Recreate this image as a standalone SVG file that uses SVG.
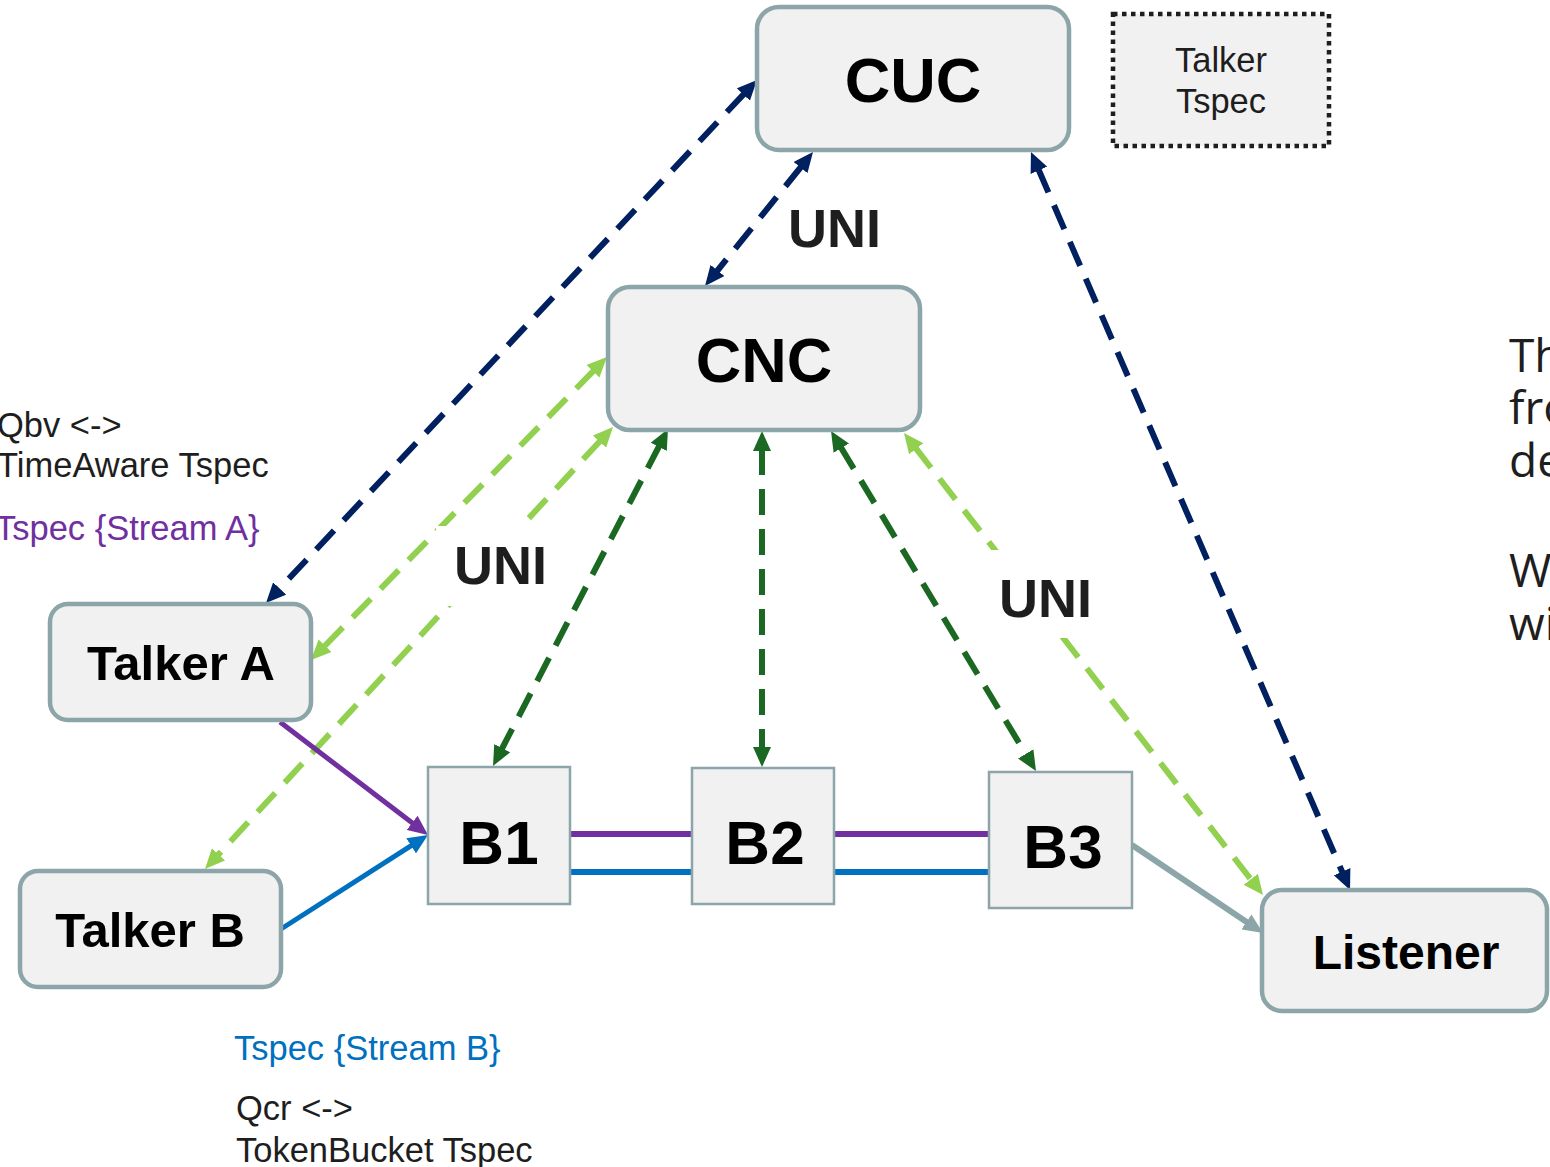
<svg xmlns="http://www.w3.org/2000/svg" width="1550" height="1167" viewBox="0 0 1550 1167">
<style>
.box{fill:#F1F1F1;stroke:#8BA5A8;stroke-width:4.5}
.sq{fill:#F1F1F1;stroke:#8BA5A8;stroke-width:2.5}
.lbl{font-family:"Liberation Sans",Arial,sans-serif;font-weight:bold;fill:#000;text-anchor:middle}
.uni{font-family:"Liberation Sans",Arial,sans-serif;font-weight:bold;font-size:54px;fill:#1E1E1E}
.note{font-family:"Liberation Sans",Arial,sans-serif;font-size:34.5px;fill:#1E1E1E}
.dash{fill:none;stroke-width:6;stroke-dasharray:26 14}
.navy{stroke:#002060;marker-start:url(#mNavy);marker-end:url(#mNavy)}
.lg{stroke:#92D050;marker-start:url(#mLg);marker-end:url(#mLg)}
.dg{stroke:#1A6822;marker-start:url(#mDg);marker-end:url(#mDg)}
.side{font-family:"Open Sans","Noto Sans",sans-serif;font-size:46px;fill:#1E1E1E}
</style>
<defs>
<marker id="mNavy" viewBox="0 0 20 18" refX="2" refY="9" markerWidth="20" markerHeight="18" markerUnits="userSpaceOnUse" orient="auto-start-reverse"><path d="M0,0 L20,9 L0,18 z" fill="#002060"/></marker>
<marker id="mLg" viewBox="0 0 20 18" refX="2" refY="9" markerWidth="20" markerHeight="18" markerUnits="userSpaceOnUse" orient="auto-start-reverse"><path d="M0,0 L20,9 L0,18 z" fill="#92D050"/></marker>
<marker id="mDg" viewBox="0 0 20 18" refX="2" refY="9" markerWidth="20" markerHeight="18" markerUnits="userSpaceOnUse" orient="auto-start-reverse"><path d="M0,0 L20,9 L0,18 z" fill="#1A6822"/></marker>
<marker id="mPur" viewBox="0 0 20 18" refX="2" refY="9" markerWidth="20" markerHeight="18" markerUnits="userSpaceOnUse" orient="auto"><path d="M0,0 L20,9 L0,18 z" fill="#7030A0"/></marker>
<marker id="mBlue" viewBox="0 0 20 18" refX="2" refY="9" markerWidth="20" markerHeight="18" markerUnits="userSpaceOnUse" orient="auto"><path d="M0,0 L20,9 L0,18 z" fill="#0070C0"/></marker>
<marker id="mGrey" viewBox="0 0 20 18" refX="2" refY="9" markerWidth="20" markerHeight="18" markerUnits="userSpaceOnUse" orient="auto"><path d="M0,0 L20,9 L0,18 z" fill="#8BA5A8"/></marker>
</defs>
<rect width="1550" height="1167" fill="#FFFFFF"/>

<g id="connectors">
<line class="dash navy" x1="744.7" y1="93.1" x2="278.3" y2="589.9"/>
<line class="dash navy" x1="801.7" y1="166" x2="716.3" y2="272"/>
<line class="dash navy" x1="1038.1" y1="168.5" x2="1342.9" y2="873.5"/>
<line class="dash lg" x1="594.4" y1="369.9" x2="323.6" y2="647.1"/>
<line class="dash lg" x1="600.8" y1="440.2" x2="217.2" y2="855.8"/>
<line class="dash dg" x1="659.7" y1="445" x2="501.3" y2="750"/>
<line class="dash dg" x1="762" y1="449" x2="762" y2="749"/>
<line class="dash dg" x1="840.3" y1="446.4" x2="1026.7" y2="755.6"/>
<line class="dash lg" x1="915" y1="447.2" x2="1252" y2="880.8"/>
<line x1="280" y1="722" x2="413.7" y2="824.1" stroke="#7030A0" stroke-width="5" marker-end="url(#mPur)"/>
<line x1="281" y1="929" x2="412.8" y2="844.7" stroke="#0070C0" stroke-width="5" marker-end="url(#mBlue)"/>
<line x1="1132" y1="845" x2="1248.1" y2="923" stroke="#8BA5A8" stroke-width="6" marker-end="url(#mGrey)"/>
<line x1="570" y1="834" x2="692" y2="834" stroke="#7030A0" stroke-width="6"/>
<line x1="834" y1="834" x2="989" y2="834" stroke="#7030A0" stroke-width="6"/>
<line x1="570" y1="872" x2="692" y2="872" stroke="#0070C0" stroke-width="6"/>
<line x1="834" y1="872" x2="989" y2="872" stroke="#0070C0" stroke-width="6"/>
</g>

<g id="labels">
<g id="uni-top"><rect x="782" y="198" width="108" height="64" fill="#FFFFFF"/><text class="uni" x="788" y="247">UNI</text></g>
<g id="uni-left"><rect x="436" y="526" width="128" height="80" fill="#FFFFFF"/><text class="uni" x="454" y="584">UNI</text></g>
<g id="uni-right"><rect x="988" y="550" width="126" height="88" fill="#FFFFFF"/><text class="uni" x="999" y="617">UNI</text></g>
<text class="note" x="-3" y="437">Qbv &lt;-&gt;</text>
<text class="note" x="-3" y="477">TimeAware Tspec</text>
<text class="note" x="-5" y="540" style="fill:#7030A0">Tspec {Stream A}</text>
<text class="note" x="234" y="1060" style="fill:#0070C0">Tspec {Stream B}</text>
<text class="note" x="236" y="1120">Qcr &lt;-&gt;</text>
<text class="note" x="236" y="1162">TokenBucket Tspec</text>
<text class="side" x="1509" y="372">Th</text>
<text class="side" x="1509" y="424">fro</text>
<text class="side" x="1509" y="477">de</text>
<text class="side" x="1509" y="587">W</text>
<text class="side" x="1509" y="640">wi</text>
</g>

<g id="cuc"><rect class="box" x="757" y="7" width="312" height="143" rx="22"/><text class="lbl" x="913" y="102" font-size="63">CUC</text></g>
<g id="talker-tspec"><rect x="1113" y="14" width="216" height="132" fill="#F1F1F1" stroke="#1E1E1E" stroke-width="4.5" stroke-dasharray="4.5 4.5"/><text class="note" x="1221" y="72" text-anchor="middle">Talker</text><text class="note" x="1221" y="113" text-anchor="middle">Tspec</text></g>
<g id="cnc"><rect class="box" x="608" y="287" width="312" height="143" rx="22"/><text class="lbl" x="764" y="382" font-size="63">CNC</text></g>
<g id="talker-a"><rect class="box" x="50" y="604" width="261" height="116" rx="18"/><text class="lbl" x="181" y="680" font-size="49">Talker A</text></g>
<g id="talker-b"><rect class="box" x="20" y="871" width="261" height="116" rx="18"/><text class="lbl" x="150" y="947" font-size="49">Talker B</text></g>
<g id="b1"><rect class="sq" x="428" y="767" width="142" height="137"/><text class="lbl" x="499" y="864" font-size="62">B1</text></g>
<g id="b2"><rect class="sq" x="692" y="768" width="142" height="136"/><text class="lbl" x="765" y="864" font-size="62">B2</text></g>
<g id="b3"><rect class="sq" x="989" y="772" width="143" height="136"/><text class="lbl" x="1063" y="868" font-size="62">B3</text></g>
<g id="listener"><rect class="box" x="1262" y="890" width="285" height="121" rx="20"/><text class="lbl" x="1406" y="969" font-size="48">Listener</text></g>
</svg>
